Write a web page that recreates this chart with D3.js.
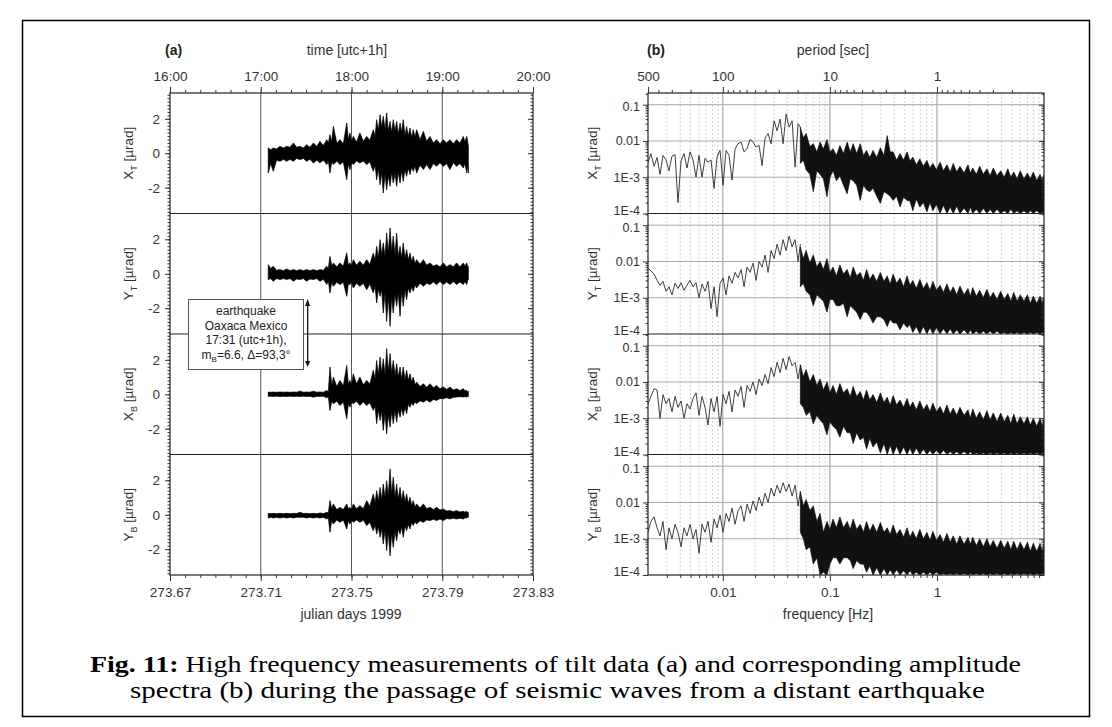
<!DOCTYPE html>
<html><head><meta charset="utf-8">
<script src="https://cdn.jsdelivr.net/npm/d3@7"></script>
<style>body{margin:0;background:#fff} svg text{font-family:"Liberation Sans",Arial,sans-serif}</style>
</head><body><svg id="c" width="1112" height="727"></svg>
<script>
// ---------------- DATA ----------------
const hourTicks = [16, 17, 18, 19, 20];
const dayTicks = [273.67, 273.71, 273.75, 273.79, 273.83];
const periodTicks = [500, 100, 10, 1];
const freqTicks = [0.01, 0.1, 1];
const ampTicks = [0.0001, 0.001, 0.01, 0.1];
const tiltTicks = [-2, 0, 2];
const panelNames = [["X","T"],["Y","T"],["X","B"],["Y","B"]];
const quakeHour = 17 + 31/60;
const quakeText = ["earthquake", "Oaxaca Mexico", "17:31 (utc+1h),"];

// time axis of the tilt records (julian days)
const timeDays = [273.7133,273.7144,273.7155,273.7170,273.7185,273.7200,273.7214,273.7229,273.7244,273.7258,
  273.7273,273.7288,273.7302,273.7317,273.7332,273.7347,273.7361,273.7376,273.7391,273.7398,
  273.7405,273.7413,273.7420,273.7435,273.7449,273.7464,273.7479,273.7486,273.7493,273.7500,
  273.7508,273.7522,273.7537,273.7552,273.7567,273.7581,273.7596,273.7604,273.7611,273.7618,
  273.7626,273.7633,273.7640,273.7648,273.7655,273.7662,273.7670,273.7677,273.7684,273.7692,
  273.7699,273.7706,273.7714,273.7721,273.7728,273.7736,273.7743,273.7750,273.7758,273.7765,
  273.7772,273.7780,273.7787,273.7802,273.7817,273.7831,273.7846,273.7861,273.7875,273.7890,
  273.7905,273.7919,273.7934,273.7949,273.7963,273.7978,273.7993,273.8000,273.8008,273.8012,273.8015];
// upper / lower envelopes of tilt (µrad)
const xtHi = [0.31,0.20,0.31,0.25,0.40,0.30,0.40,0.35,0.60,0.35,0.40,0.30,0.50,0.35,0.60,0.40,0.69,0.45,0.79,0.60,
  1.08,0.70,1.56,0.60,0.79,0.55,1.76,0.80,1.18,0.70,0.98,0.65,1.18,0.70,0.98,0.75,1.37,1.00,1.95,1.30,
  2.24,1.50,2.15,1.40,2.34,1.30,1.85,1.20,1.95,1.30,1.85,1.10,1.76,1.20,1.95,1.00,1.56,1.00,1.47,0.90,
  1.37,0.95,1.37,0.80,1.27,0.70,0.98,0.60,0.79,0.55,0.79,0.60,0.79,0.55,0.79,0.60,0.98,0.65,0.98,0.70,0.40];
const xtLo = [-1.15,-0.60,-1.05,-0.40,-0.47,-0.35,-0.47,-0.35,-0.47,-0.30,-0.37,-0.30,-0.47,-0.35,-0.57,-0.40,-0.57,-0.40,-0.66,-0.45,
  -1.15,-0.50,-0.66,-0.45,-0.66,-0.50,-1.54,-0.60,-0.95,-0.55,-0.66,-0.45,-0.57,-0.45,-0.66,-0.50,-1.05,-0.70,-1.54,-0.90,
  -1.83,-1.10,-2.31,-1.20,-2.12,-1.30,-1.92,-1.10,-1.73,-1.20,-1.92,-1.10,-1.73,-1.00,-1.63,-0.95,-1.34,-0.85,-1.24,-0.80,
  -1.05,-0.75,-1.15,-0.70,-0.95,-0.65,-0.95,-0.60,-0.76,-0.55,-0.76,-0.60,-0.95,-0.55,-0.76,-0.60,-0.86,-0.60,-1.15,-0.70,-1.15];
const ytHi = [0.53,0.30,0.43,0.20,0.24,0.18,0.28,0.18,0.24,0.18,0.24,0.17,0.24,0.18,0.24,0.17,0.24,0.20,0.43,0.30,
  1.01,0.45,0.63,0.40,0.63,0.45,1.21,0.50,0.63,0.45,0.82,0.50,0.72,0.50,0.82,0.55,1.21,0.80,1.59,0.90,
  1.98,1.10,1.79,1.00,2.37,1.20,2.66,1.30,2.18,1.10,2.37,1.00,1.59,0.90,1.79,0.90,1.40,0.80,1.21,0.70,
  1.01,0.60,0.82,0.55,0.82,0.50,0.63,0.45,0.53,0.40,0.63,0.40,0.53,0.40,0.63,0.40,0.63,0.45,0.63,0.40,0.43];
const ytLo = [-0.34,-0.28,-0.44,-0.28,-0.34,-0.28,-0.34,-0.28,-0.44,-0.30,-0.34,-0.28,-0.44,-0.30,-0.34,-0.28,-0.44,-0.32,-0.63,-0.40,
  -1.12,-0.50,-0.73,-0.50,-0.63,-0.50,-1.31,-0.60,-0.63,-0.50,-0.83,-0.55,-0.73,-0.55,-0.93,-0.60,-1.12,-0.75,-1.70,-0.90,
  -1.31,-0.95,-2.28,-1.10,-2.77,-1.30,-3.05,-1.40,-2.28,-1.20,-1.89,-1.10,-2.47,-1.00,-1.89,-0.95,-1.51,-0.85,-1.12,-0.75,
  -1.02,-0.65,-0.83,-0.55,-0.73,-0.55,-0.63,-0.48,-0.63,-0.45,-0.63,-0.48,-0.63,-0.45,-0.63,-0.48,-0.63,-0.45,-0.63,-0.40,-0.34];
const xbHi = [0.13,0.11,0.13,0.11,0.13,0.12,0.13,0.11,0.13,0.12,0.18,0.12,0.13,0.12,0.18,0.12,0.13,0.12,0.22,0.15,
  1.58,0.50,1.00,0.45,0.80,0.50,1.67,0.60,0.80,0.55,1.19,0.60,1.00,0.55,0.80,0.60,1.39,0.90,1.96,1.10,
  2.16,1.20,2.06,1.10,2.65,1.30,2.36,1.20,1.96,1.10,1.77,1.00,1.58,0.90,1.58,0.85,1.39,0.80,1.19,0.70,
  1.00,0.55,0.71,0.45,0.61,0.40,0.61,0.38,0.51,0.32,0.42,0.28,0.42,0.25,0.32,0.22,0.32,0.20,0.22,0.16,0.18];
const xbLo = [-0.13,-0.11,-0.13,-0.11,-0.13,-0.12,-0.13,-0.11,-0.13,-0.12,-0.13,-0.11,-0.13,-0.12,-0.17,-0.12,-0.13,-0.12,-0.20,-0.15,
  -0.94,-0.40,-0.55,-0.40,-0.65,-0.45,-1.42,-0.55,-0.75,-0.45,-0.55,-0.40,-0.65,-0.45,-0.65,-0.50,-0.94,-0.70,-1.71,-0.90,
  -1.52,-1.00,-2.10,-1.10,-2.30,-1.20,-1.91,-1.00,-1.71,-0.95,-1.62,-0.90,-1.33,-0.80,-1.23,-0.75,-1.13,-0.60,-0.75,-0.50,
  -0.65,-0.45,-0.55,-0.38,-0.46,-0.33,-0.46,-0.30,-0.36,-0.25,-0.26,-0.20,-0.26,-0.18,-0.16,-0.14,-0.16,-0.14,-0.16,-0.14,-0.13];
const ybHi = [0.08,0.06,0.08,0.06,0.08,0.06,0.08,0.06,0.08,0.07,0.14,0.07,0.08,0.06,0.08,0.06,0.10,0.07,0.14,0.10,
  0.82,0.35,0.63,0.30,0.43,0.30,0.63,0.35,0.43,0.30,0.63,0.35,0.53,0.35,0.82,0.50,1.21,0.70,1.40,0.80,
  1.59,0.90,1.79,1.00,1.98,1.10,2.66,1.20,2.18,1.00,1.79,0.90,1.59,0.80,1.40,0.75,1.21,0.65,1.01,0.55,
  0.82,0.45,0.63,0.40,0.63,0.35,0.43,0.30,0.43,0.28,0.33,0.22,0.24,0.18,0.24,0.16,0.20,0.15,0.20,0.12,0.14];
const ybLo = [-0.19,-0.15,-0.19,-0.15,-0.19,-0.15,-0.19,-0.15,-0.19,-0.14,-0.15,-0.14,-0.19,-0.15,-0.19,-0.15,-0.19,-0.15,-0.25,-0.18,
  -1.02,-0.35,-0.54,-0.30,-0.44,-0.30,-0.83,-0.35,-0.54,-0.30,-0.44,-0.30,-0.44,-0.32,-0.63,-0.45,-0.93,-0.60,-1.12,-0.70,
  -1.31,-0.80,-1.70,-0.90,-2.08,-1.00,-2.38,-1.10,-1.89,-0.95,-1.51,-0.85,-1.12,-0.70,-1.31,-0.65,-0.93,-0.55,-0.83,-0.45,
  -0.63,-0.40,-0.54,-0.35,-0.44,-0.30,-0.34,-0.26,-0.34,-0.25,-0.34,-0.22,-0.25,-0.20,-0.25,-0.20,-0.25,-0.18,-0.19,-0.15,-0.15];

// amplitude spectra: sparse low-frequency part (single line)
const lineFreq = [0.002,0.00213,0.00228,0.00243,0.00259,0.00276,0.00295,0.00314,0.00335,0.00358,
  0.00381,0.00407,0.00434,0.00463,0.00494,0.00527,0.00562,0.00599,0.00639,0.00682,
  0.00727,0.00776,0.00828,0.00883,0.00942,0.01005,0.01072,0.01143,0.01219,0.01301,
  0.01388,0.0148,0.01579,0.01684,0.01797,0.01916,0.02044,0.02181,0.02326,0.02481,
  0.02647,0.02823,0.03012,0.03213,0.03427,0.03655,0.03899,0.04159,0.04437,0.04733,0.05049,0.053];
const xtLine = [0.0025,0.0045,0.002,0.0035,0.0012,0.004,0.003,0.0015,0.0038,0.0042,
  0.0002,0.0028,0.0045,0.0018,0.005,0.003,0.001,0.004,0.001,0.0033,
  0.0026,0.003,0.00049,0.0036,0.0055,0.0006,0.0055,0.004,0.00083,0.006,
  0.0084,0.0093,0.005,0.0061,0.011,0.0093,0.0068,0.0075,0.0021,0.012,
  0.016,0.0084,0.036,0.019,0.04,0.0084,0.055,0.024,0.036,0.0019,0.03,0.024];
const ytLine = [0.0065,0.0055,0.0045,0.003,0.0022,0.0028,0.0015,0.002,0.0012,0.0025,
  0.0018,0.0026,0.0016,0.0022,0.003,0.002,0.0026,0.001,0.0024,0.0015,
  0.0028,0.0005,0.002,0.0003,0.0025,0.0035,0.0012,0.004,0.0025,0.005,
  0.0035,0.006,0.002,0.007,0.005,0.009,0.003,0.01,0.007,0.015,
  0.005,0.02,0.012,0.03,0.015,0.04,0.02,0.05,0.025,0.04,0.01,0.03];
const xbLine = [0.0025,0.004,0.0065,0.006,0.001,0.0045,0.0025,0.0035,0.0015,0.004,
  0.002,0.003,0.001,0.0025,0.0018,0.0035,0.005,0.0012,0.004,0.002,
  0.00065,0.0035,0.0015,0.004,0.0006,0.0045,0.0025,0.0055,0.0015,0.006,
  0.004,0.0075,0.002,0.008,0.0055,0.01,0.0045,0.012,0.008,0.016,
  0.009,0.025,0.014,0.035,0.018,0.045,0.022,0.05,0.028,0.035,0.012,0.028];
const ybLine = [0.0015,0.003,0.004,0.002,0.0012,0.003,0.0005,0.002,0.001,0.0025,
  0.0015,0.0006,0.002,0.0012,0.0025,0.001,0.0018,0.0004,0.0025,0.0015,
  0.003,0.0008,0.0035,0.002,0.0045,0.0015,0.005,0.003,0.007,0.0025,
  0.006,0.008,0.003,0.009,0.005,0.011,0.006,0.014,0.008,0.018,
  0.01,0.025,0.015,0.03,0.018,0.035,0.02,0.032,0.015,0.03,0.008,0.02];

// dense high-frequency part: upper / lower envelopes
const bandFreq = [0.053,0.0565,0.06,0.065,0.07,0.0755,0.081,0.087,0.094,0.1,
  0.107,0.115,0.124,0.134,0.145,0.155,0.165,0.178,0.192,0.206,
  0.22,0.236,0.253,0.274,0.296,0.32,0.343,0.366,0.39,0.42,
  0.452,0.488,0.526,0.56,0.595,0.642,0.692,0.747,0.806,0.86,
  0.916,0.99,1.07,1.15,1.24,1.33,1.42,1.53,1.64,1.79,
  1.95,2.05,2.16,2.33,2.51,2.71,2.93,3.14,3.36,3.64,
  3.94,4.25,4.59,4.9,5.22,5.6,6.0,6.5,7.0,7.45,
  7.95,8.55,9.2,9.6,10];
const xtBandHi = [0.024,0.012,0.016,0.007,0.0084,0.005,0.0093,0.006,0.011,0.005,
  0.0061,0.004,0.0075,0.0045,0.0093,0.005,0.0084,0.0045,0.0084,0.004,
  0.0055,0.0035,0.0055,0.0035,0.0065,0.004,0.014,0.005,0.005,0.003,
  0.0045,0.003,0.005,0.0028,0.0036,0.0022,0.0032,0.002,0.0029,0.0018,
  0.0024,0.0016,0.0026,0.0015,0.0022,0.0014,0.0024,0.0014,0.002,0.0013,
  0.0022,0.0013,0.0018,0.0012,0.002,0.0012,0.0017,0.0011,0.0018,0.0011,
  0.0015,0.001,0.0017,0.001,0.0014,0.0009,0.0015,0.0009,0.0013,0.0009,
  0.0014,0.0008,0.0012,0.0008,0.0012];
const xtBandLo = [0.0024,0.003,0.0016,0.0012,0.0004,0.0015,0.0012,0.0009,0.00029,0.001,
  0.0015,0.0008,0.0011,0.0006,0.00035,0.0009,0.0008,0.0006,0.00023,0.0006,
  0.00045,0.0004,0.0005,0.0003,0.00019,0.0004,0.00035,0.0003,0.00023,0.0003,
  0.00015,0.00028,0.00023,0.00022,0.00012,0.00025,0.00015,0.0002,0.00011,0.0002,
  0.00012,0.00018,0.0001,0.00017,0.0001,0.00015,0.0001,0.00016,0.0001,0.00014,
  0.0001,0.00015,0.0001,0.00013,0.0001,0.00014,0.0001,0.00013,0.0001,0.00013,
  0.0001,0.00012,0.0001,0.00013,0.0001,0.00012,0.0001,0.00012,0.0001,0.00012,
  0.0001,0.00012,0.0001,0.00011,0.0001];
const ytBandHi = [0.025,0.012,0.02,0.009,0.015,0.007,0.01,0.006,0.012,0.005,
  0.007,0.004,0.008,0.0045,0.006,0.0035,0.007,0.004,0.005,0.003,
  0.006,0.0032,0.0045,0.0028,0.005,0.0028,0.004,0.0024,0.0045,0.0025,
  0.0035,0.002,0.004,0.0022,0.003,0.0018,0.0032,0.0018,0.0026,0.0016,
  0.0028,0.0016,0.0022,0.0014,0.0024,0.0014,0.002,0.0012,0.0021,0.0012,
  0.0018,0.0011,0.0019,0.0011,0.0016,0.001,0.0017,0.001,0.0014,0.0009,
  0.0015,0.0009,0.0013,0.0008,0.0014,0.0008,0.0012,0.0008,0.0012,0.0007,
  0.0011,0.0007,0.0011,0.0007,0.001];
const ytBandLo = [0.002,0.0025,0.0015,0.0012,0.0006,0.0012,0.001,0.0008,0.0004,0.0009,
  0.0009,0.0006,0.0006,0.0007,0.0003,0.0006,0.0005,0.0004,0.00025,0.0004,
  0.0004,0.0003,0.0002,0.0003,0.0003,0.00025,0.00016,0.00025,0.0002,0.0002,
  0.00013,0.0002,0.00015,0.00018,0.00011,0.00016,0.0001,0.00016,0.0001,0.00015,
  0.0001,0.00015,0.0001,0.00014,0.0001,0.00014,0.0001,0.00013,0.0001,0.00013,
  0.0001,0.00013,0.0001,0.00012,0.0001,0.00012,0.0001,0.00012,0.0001,0.00012,
  0.0001,0.00011,0.0001,0.00011,0.0001,0.00011,0.0001,0.00011,0.0001,0.00011,
  0.0001,0.00011,0.0001,0.00011,0.0001];
const xbBandHi = [0.03,0.014,0.022,0.01,0.016,0.008,0.012,0.006,0.01,0.005,
  0.008,0.0045,0.009,0.005,0.0065,0.004,0.0075,0.004,0.0055,0.0032,
  0.006,0.0032,0.0045,0.0027,0.005,0.0027,0.0038,0.0023,0.0042,0.0023,
  0.0032,0.002,0.0035,0.002,0.0028,0.0017,0.003,0.0017,0.0024,0.0015,
  0.0026,0.0015,0.0021,0.0013,0.0023,0.0013,0.0019,0.0012,0.002,0.0012,
  0.0017,0.001,0.0018,0.001,0.0015,0.0009,0.0016,0.0009,0.0014,0.0008,
  0.0014,0.0008,0.0012,0.0007,0.0013,0.0007,0.0011,0.0007,0.0011,0.00065,
  0.001,0.0006,0.001,0.0006,0.0009];
const xbBandLo = [0.0025,0.002,0.0012,0.0015,0.0007,0.0012,0.0009,0.0007,0.00035,0.0008,
  0.0006,0.0005,0.0003,0.0006,0.0004,0.0004,0.0002,0.0004,0.00025,0.0003,
  0.00014,0.00028,0.00016,0.00022,0.00011,0.0002,0.0001,0.00018,0.0001,0.00017,
  0.0001,0.00016,0.0001,0.00015,0.0001,0.00015,0.0001,0.00014,0.0001,0.00013,
  0.0001,0.00013,0.0001,0.00013,0.0001,0.00012,0.0001,0.00012,0.0001,0.00012,
  0.0001,0.00012,0.0001,0.00011,0.0001,0.00011,0.0001,0.00011,0.0001,0.00011,
  0.0001,0.00011,0.0001,0.00011,0.0001,0.00011,0.0001,0.00011,0.0001,0.00011,
  0.0001,0.00011,0.0001,0.00011,0.0001];
const ybBandHi = [0.02,0.008,0.012,0.006,0.008,0.003,0.005,0.0015,0.003,0.0018,
  0.0035,0.002,0.004,0.002,0.003,0.0018,0.0035,0.0018,0.0025,0.0015,
  0.003,0.0016,0.0025,0.0015,0.0028,0.0015,0.002,0.0013,0.0024,0.0013,
  0.0018,0.0011,0.002,0.0011,0.0016,0.001,0.0018,0.001,0.0015,0.0009,
  0.0016,0.0009,0.0013,0.0008,0.0014,0.0008,0.0012,0.0007,0.0012,0.0007,
  0.0011,0.0007,0.0011,0.00065,0.001,0.0006,0.001,0.0006,0.0009,0.00055,
  0.0009,0.00055,0.00085,0.0005,0.00085,0.0005,0.0008,0.0005,0.0008,0.00045,
  0.00075,0.00045,0.00075,0.00045,0.0007];
const ybBandLo = [0.0015,0.001,0.0005,0.0006,0.0002,0.0003,0.0001,0.00012,0.0001,0.0002,
  0.0003,0.0003,0.0002,0.0003,0.0003,0.00025,0.00015,0.00025,0.0002,0.0002,
  0.00012,0.00018,0.0001,0.00016,0.0001,0.00015,0.0001,0.00014,0.0001,0.00014,
  0.0001,0.00013,0.0001,0.00013,0.0001,0.00012,0.0001,0.00012,0.0001,0.00012,
  0.0001,0.00012,0.0001,0.00011,0.0001,0.00011,0.0001,0.00011,0.0001,0.00011,
  0.0001,0.00011,0.0001,0.00011,0.0001,0.00011,0.0001,0.00011,0.0001,0.00011,
  0.0001,0.00011,0.0001,0.00011,0.0001,0.00011,0.0001,0.00011,0.0001,0.00011,
  0.0001,0.00011,0.0001,0.00011,0.0001];

// ---------------- LAYOUT ----------------
const svg = d3.select("#c");
const L0 = 170, L1 = 533, R0 = 648, R1 = 1044;
const tops = [93, 213.5, 334, 454.5], PH = 120.5, BOT = 575;
const FONT = "'Liberation Sans', Arial, sans-serif";
const TXT = "#333";

const xDay = d3.scaleLinear().domain([273.67, 273.83]).range([L0, L1]);
const xHour = d3.scaleLinear().domain([16, 20]).range([L0, L1]);
const xFreq = d3.scaleLog().domain([0.002, 10]).range([R0, R1]);
const xPer = d3.scaleLog().domain([500, 0.1]).range([R0, R1]);
const yTilt = i => d3.scaleLinear().domain([-3.5, 3.5]).range([tops[i] + PH, tops[i]]);
const yAmp = i => d3.scaleLog().domain([0.0001, 0.21]).range([tops[i] + PH, tops[i]]);

const traces = [[xtHi, xtLo], [ytHi, ytLo], [xbHi, xbLo], [ybHi, ybLo]];
const spectra = [[xtLine, xtBandHi, xtBandLo], [ytLine, ytBandHi, ytBandLo],
                 [xbLine, xbBandHi, xbBandLo], [ybLine, ybBandHi, ybBandLo]];

// outer frame
svg.append("rect").attr("x", 22.5).attr("y", 20.5).attr("width", 1067).attr("height", 696)
  .attr("fill", "none").attr("stroke", "#000").attr("stroke-width", 1.5);

const defs = svg.append("defs");
tops.forEach((t, i) => {
  defs.append("clipPath").attr("id", "cl" + i).append("rect").attr("x", L0).attr("y", t).attr("width", L1 - L0).attr("height", PH);
  defs.append("clipPath").attr("id", "cr" + i).append("rect").attr("x", R0).attr("y", t).attr("width", R1 - R0).attr("height", PH);
});

function axis(sel, gen, vals, size, fmt, pad, fs) {
  gen.tickValues(vals).tickSizeInner(size).tickSizeOuter(0).tickPadding(pad || 4).tickFormat(fmt || (() => ""));
  sel.call(gen);
  sel.select(".domain").remove();
  sel.attr("font-family", FONT).attr("font-size", fs || 13.5);
  sel.selectAll("line").attr("stroke", "#333");
  sel.selectAll("text").attr("fill", TXT);
  return sel;
}

// minor tick lists
const minorHours = d3.range(0, 25).map(i => 16 + i / 6);
const minorDays = d3.range(0, 25).map(i => 273.67 + i * 0.04 / 6);
const minorTilt = d3.range(-17, 18).map(i => i * 0.2);
const minorFreq = [], minorPer = [], minorAmp = [];
[0.001, 0.01, 0.1, 1].forEach(d => { for (let k = 2; k <= 9; k++) { const v = d * k; if (v > 0.002 && v < 10) minorFreq.push(v); } });
[0.1, 1, 10, 100].forEach(d => { for (let k = 2; k <= 9; k++) { const v = d * k; if (v > 0.1 && v < 500) minorPer.push(v); } });
[0.0001, 0.001, 0.01, 0.1].forEach(d => { for (let k = 2; k <= 9; k++) { const v = d * k; if (v < 0.21) minorAmp.push(v); } });

// ---------------- LEFT PANEL (a) ----------------
svg.append("g").selectAll("line").data([17, 18, 19]).join("line")
  .attr("x1", d => xHour(d)).attr("x2", d => xHour(d)).attr("y1", tops[0]).attr("y2", BOT)
  .attr("stroke", "#555").attr("stroke-width", 1);

const area = (y) => d3.area().x(d => xDay(d[0])).y0(d => y(d[2])).y1(d => y(d[1]));
traces.forEach((tr, i) => {
  const y = yTilt(i);
  const pts = timeDays.map((t, j) => [t, tr[0][j], tr[1][j]]);
  svg.append("path").datum(pts).attr("clip-path", `url(#cl${i})`)
    .attr("d", area(y)).attr("fill", "#000").attr("stroke", "#000").attr("stroke-width", 0.7);
  axis(svg.append("g").attr("transform", `translate(${L0},0)`), d3.axisLeft(y), tiltTicks, 5, d => String(d), 5);
  axis(svg.append("g").attr("transform", `translate(${L0},0)`), d3.axisLeft(y), minorTilt, 2.5);
  axis(svg.append("g").attr("transform", `translate(${L1},0)`), d3.axisRight(y), tiltTicks, -5);
  axis(svg.append("g").attr("transform", `translate(${L1},0)`), d3.axisRight(y), minorTilt, -2.5);
  const lab = svg.append("text").attr("transform", `translate(133,${tops[i] + PH / 2}) rotate(-90)`)
    .attr("text-anchor", "middle").attr("font-size", 13.5).attr("fill", TXT).attr("font-family", FONT);
  lab.append("tspan").text(panelNames[i][0]);
  lab.append("tspan").attr("dy", 4).attr("font-size", 9).text(panelNames[i][1]);
  lab.append("tspan").attr("dy", -4).text(" [\u00b5rad]");
});

svg.append("rect").attr("x", L0).attr("y", tops[0]).attr("width", L1 - L0).attr("height", BOT - tops[0])
  .attr("fill", "none").attr("stroke", "#222").attr("stroke-width", 1.2);
svg.append("g").selectAll("line").data(tops.slice(1)).join("line")
  .attr("x1", L0).attr("x2", L1).attr("y1", d => d).attr("y2", d => d).attr("stroke", "#222").attr("stroke-width", 1.2);

axis(svg.append("g").attr("transform", `translate(0,${tops[0]})`), d3.axisTop(xHour), hourTicks, 6, d => d + ":00", 6);
axis(svg.append("g").attr("transform", `translate(0,${tops[0]})`), d3.axisTop(xHour), minorHours, 3);
axis(svg.append("g").attr("transform", `translate(0,${BOT})`), d3.axisBottom(xDay), dayTicks, 6, d3.format(".2f"), 6);
axis(svg.append("g").attr("transform", `translate(0,${BOT})`), d3.axisBottom(xDay), minorDays, 3);

svg.append("text").attr("x", 165).attr("y", 55).attr("font-weight", "bold").attr("font-size", 14)
  .attr("fill", "#222").attr("font-family", FONT).text("(a)");
svg.append("text").attr("x", 347).attr("y", 55).attr("text-anchor", "middle").attr("font-size", 14)
  .attr("fill", TXT).attr("font-family", FONT).text("time [utc+1h]");
svg.append("text").attr("x", 351).attr("y", 619).attr("text-anchor", "middle").attr("font-size", 14)
  .attr("fill", TXT).attr("font-family", FONT).text("julian days 1999");

// annotation box + arrow
const ann = svg.append("g");
ann.append("rect").attr("x", 188.5).attr("y", 299.5).attr("width", 115).attr("height", 70)
  .attr("fill", "#fff").attr("stroke", "#555").attr("stroke-width", 1);
quakeText.forEach((s, k) => ann.append("text").attr("x", 246).attr("y", 315 + k * 14.5)
  .attr("text-anchor", "middle").attr("font-size", 12).attr("fill", "#222").attr("font-family", FONT).text(s));
const last = ann.append("text").attr("x", 246).attr("y", 315 + 3 * 14.5).attr("text-anchor", "middle")
  .attr("font-size", 12).attr("fill", "#222").attr("font-family", FONT);
last.append("tspan").text("m");
last.append("tspan").attr("dy", 3).attr("font-size", 8).text("B");
last.append("tspan").attr("dy", -3).text("=6.6, \u0394=93,3\u00b0");
const ax = xHour(quakeHour);
ann.append("line").attr("x1", ax).attr("x2", ax).attr("y1", 302).attr("y2", 364).attr("stroke", "#111").attr("stroke-width", 1.3);
ann.append("path").attr("d", `M${ax},299 L${ax - 2.5},306 L${ax + 2.5},306 Z`).attr("fill", "#111");
ann.append("path").attr("d", `M${ax},367 L${ax - 2.5},361 L${ax + 2.5},361 Z`).attr("fill", "#111");

// ---------------- RIGHT PANEL (b) ----------------
svg.append("g").selectAll("line").data(minorFreq).join("line")
  .attr("x1", d => xFreq(d)).attr("x2", d => xFreq(d)).attr("y1", tops[0]).attr("y2", BOT)
  .attr("stroke", "#c8c8c8").attr("stroke-width", 0.8).attr("stroke-dasharray", "2,2");
svg.append("g").selectAll("line").data(freqTicks).join("line")
  .attr("x1", d => xFreq(d)).attr("x2", d => xFreq(d)).attr("y1", tops[0]).attr("y2", BOT)
  .attr("stroke", "#999").attr("stroke-width", 1);

spectra.forEach((sp, i) => {
  const y = yAmp(i);
  svg.append("g").selectAll("line").data([0.001, 0.01, 0.1]).join("line")
    .attr("x1", R0).attr("x2", R1).attr("y1", d => y(d)).attr("y2", d => y(d))
    .attr("stroke", "#aaa").attr("stroke-width", 1);
  const g = svg.append("g").attr("clip-path", `url(#cr${i})`);
  g.append("path").datum(lineFreq.map((f, j) => [f, sp[0][j]]))
    .attr("d", d3.line().x(d => xFreq(d[0])).y(d => y(d[1])))
    .attr("fill", "none").attr("stroke", "#2a2a2a").attr("stroke-width", 0.9);
  g.append("path").datum(bandFreq.map((f, j) => [f, sp[1][j], sp[2][j]]))
    .attr("d", d3.area().x(d => xFreq(d[0])).y0(d => y(d[2])).y1(d => y(d[1])))
    .attr("fill", "#111").attr("stroke", "#111").attr("stroke-width", 0.7);
  const ya = axis(svg.append("g").attr("transform", `translate(${R0},0)`), d3.axisLeft(y), ampTicks, 5,
    d => d >= 0.01 ? String(d) : "1E" + Math.round(Math.log10(d)), 3, 12.5);
  ya.selectAll(".tick text").attr("dy", d => d === 0.0001 ? "0.05em" : d === 0.1 ? "0.5em" : "0.32em");
  axis(svg.append("g").attr("transform", `translate(${R0},0)`), d3.axisLeft(y), minorAmp, 2.5);
  axis(svg.append("g").attr("transform", `translate(${R1},0)`), d3.axisRight(y), ampTicks, -5);
  axis(svg.append("g").attr("transform", `translate(${R1},0)`), d3.axisRight(y), minorAmp, -2.5);
  const lab = svg.append("text").attr("transform", `translate(597,${tops[i] + PH / 2}) rotate(-90)`)
    .attr("text-anchor", "middle").attr("font-size", 13.5).attr("fill", TXT).attr("font-family", FONT);
  lab.append("tspan").text(panelNames[i][0]);
  lab.append("tspan").attr("dy", 4).attr("font-size", 9).text(panelNames[i][1]);
  lab.append("tspan").attr("dy", -4).text(" [\u00b5rad]");
});

svg.append("rect").attr("x", R0).attr("y", tops[0]).attr("width", R1 - R0).attr("height", BOT - tops[0])
  .attr("fill", "none").attr("stroke", "#222").attr("stroke-width", 1.2);
svg.append("g").selectAll("line").data(tops.slice(1)).join("line")
  .attr("x1", R0).attr("x2", R1).attr("y1", d => d).attr("y2", d => d).attr("stroke", "#222").attr("stroke-width", 1.2);

axis(svg.append("g").attr("transform", `translate(0,${tops[0]})`), d3.axisTop(xPer), periodTicks, 6, d => String(d), 6);
axis(svg.append("g").attr("transform", `translate(0,${tops[0]})`), d3.axisTop(xPer), minorPer, 3);
axis(svg.append("g").attr("transform", `translate(0,${BOT})`), d3.axisBottom(xFreq), freqTicks, 6, d => String(d), 6);
axis(svg.append("g").attr("transform", `translate(0,${BOT})`), d3.axisBottom(xFreq), minorFreq, 3);

svg.append("text").attr("x", 647).attr("y", 55).attr("font-weight", "bold").attr("font-size", 14)
  .attr("fill", "#222").attr("font-family", FONT).text("(b)");
svg.append("text").attr("x", 833).attr("y", 55).attr("text-anchor", "middle").attr("font-size", 14)
  .attr("fill", TXT).attr("font-family", FONT).text("period [sec]");
svg.append("text").attr("x", 828).attr("y", 619).attr("text-anchor", "middle").attr("font-size", 14)
  .attr("fill", TXT).attr("font-family", FONT).text("frequency [Hz]");

// ---------------- CAPTION ----------------
const SERIF = "'Liberation Serif','Times New Roman',serif";
const cap1 = svg.append("text").attr("x", 555.5).attr("y", 672).attr("text-anchor", "middle")
  .attr("font-size", 23).attr("fill", "#000").style("font-family", SERIF)
  .attr("textLength", 931).attr("lengthAdjust", "spacingAndGlyphs");
cap1.append("tspan").attr("font-weight", "bold").text("Fig. 11:");
cap1.append("tspan").text(" High frequency measurements of tilt data (a) and corresponding amplitude");
svg.append("text").attr("x", 557.5).attr("y", 698).attr("text-anchor", "middle")
  .attr("font-size", 23).attr("fill", "#000").style("font-family", SERIF)
  .attr("textLength", 855).attr("lengthAdjust", "spacingAndGlyphs")
  .text("spectra (b) during the passage of seismic waves from a distant earthquake");
</script></body></html>
